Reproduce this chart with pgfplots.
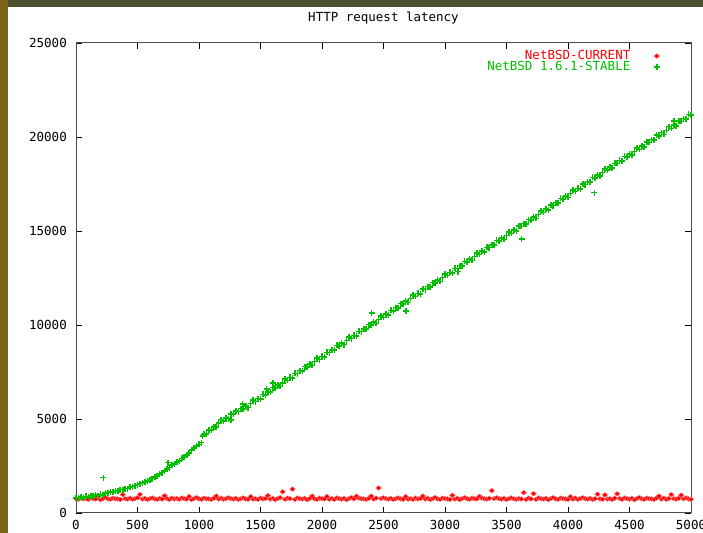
\documentclass[border=0pt]{standalone}
\usepackage{fontspec}
\setmainfont{DejaVu Sans Mono}
\usepackage{pgfplots}
\pgfplotsset{compat=1.18}
\definecolor{gpred}{RGB}{255,0,0}
\definecolor{gpgreen}{RGB}{0,192,0}
\definecolor{leftbar}{RGB}{122,98,22}
\definecolor{topbar}{RGB}{72,80,45}
\newcommand{\gpfont}{\fontsize{12.5bp}{14bp}\selectfont}
\begin{document}
\begin{tikzpicture}[x=1bp,y=1bp]
\useasboundingbox (0,0) rectangle (703,533);
\fill[white] (0,0) rectangle (703,533);
\fill[leftbar] (0,0) rectangle (7.5,533);
\fill[topbar] (7.5,525.5) rectangle (703,533);
\begin{axis}[
  at={(76bp,20bp)}, anchor=south west,
  scale only axis, width=615bp, height=470bp,
  xmin=0, xmax=5000, ymin=0, ymax=25000,
  xtick={0,500,...,5000}, ytick={0,5000,...,25000},
  scaled ticks=false,
  /pgf/number format/1000 sep={},
  /pgf/number format/assume math mode=true,
  tick align=inside, major tick length=6bp,
  axis line style={black!70, line width=1bp},
  every tick/.style={black, line width=0.8bp},
  tick label style={font=\gpfont, inner sep=0pt},
  xticklabel style={anchor=north, yshift=-7bp},
  yticklabel style={anchor=east, xshift=-9bp},
  title={HTTP request latency},
  title style={font=\gpfont, inner sep=0pt, anchor=south, at={(0.5,1)}, yshift=13bp},
  clip=false,
  legend cell align=right,
  legend plot pos=right,
  legend style={draw=none, fill=none, at={(1,1)}, anchor=north east,
    xshift=-28bp, yshift=-4bp, font=\gpfont, row sep=-3bp,
    nodes={inner sep=1.5bp},
    /tikz/every odd column/.append style={column sep=22bp}},
]
\addplot[only marks, mark=diamond*, mark size=2.4bp,
  mark options={xscale=1.6, fill=gpred, draw=gpred!50!white, line width=0.4bp}]
coordinates {
(0,760)(20,730)(40,790)(60,750)(80,770)(100,720)(120,800)(140,760)(160,740)(180,880)(200,710)(220,770)(240,820)(260,750)(280,730)(300,790)(320,760)
(340,750)(360,720)(380,980)(400,760)(420,740)(440,790)(460,730)(480,770)(500,810)(520,990)(540,740)(560,780)(580,720)(600,760)(620,800)(640,750)(660,730)
(680,770)(700,740)(720,920)(740,760)(760,720)(780,790)(800,750)(820,770)(840,730)(860,800)(880,760)(900,740)(920,880)(940,710)(960,770)(980,820)(1000,750)
(1020,730)(1040,790)(1060,760)(1080,750)(1100,720)(1120,780)(1140,900)(1160,740)(1180,790)(1200,730)(1220,770)(1240,810)(1260,760)(1280,740)(1300,780)(1320,720)
(1340,760)(1360,800)(1380,750)(1400,730)(1420,870)(1440,740)(1460,760)(1480,720)(1500,790)(1520,750)(1540,770)(1560,930)(1580,740)(1600,780)(1620,710)(1640,770)
(1660,820)(1680,1130)(1700,730)(1720,790)(1740,760)(1760,1270)(1780,720)(1800,800)(1820,760)(1840,740)(1860,780)(1880,710)(1900,770)(1920,900)(1940,750)(1960,730)
(1980,790)(2000,760)(2020,750)(2040,880)(2060,730)(2080,770)(2100,720)(2120,800)(2140,760)(2160,740)(2180,780)(2200,710)(2220,770)(2240,820)(2260,750)(2280,890)
(2300,790)(2320,760)(2340,750)(2360,720)(2380,780)(2400,900)(2420,740)(2440,790)(2460,1330)(2480,770)(2500,810)(2520,760)(2540,740)(2560,780)(2580,720)(2600,760)
(2620,800)(2640,750)(2660,730)(2680,870)(2700,740)(2720,760)(2740,720)(2760,790)(2780,750)(2800,770)(2820,900)(2840,740)(2860,780)(2880,710)(2900,770)(2920,820)
(2940,750)(2960,730)(2980,790)(3000,760)(3020,750)(3040,720)(3060,940)(3080,740)(3100,780)(3120,710)(3140,770)(3160,820)(3180,750)(3200,730)(3220,790)(3240,760)
(3260,750)(3280,880)(3300,790)(3320,760)(3340,740)(3360,780)(3380,1190)(3400,770)(3420,810)(3440,760)(3460,740)(3480,780)(3500,720)(3520,760)(3540,800)(3560,750)
(3580,730)(3600,770)(3620,740)(3640,1080)(3660,720)(3680,790)(3700,750)(3720,1030)(3740,730)(3760,800)(3780,760)(3800,740)(3820,780)(3840,710)(3860,770)(3880,820)
(3900,750)(3920,730)(3940,790)(3960,760)(3980,750)(4000,720)(4020,870)(4040,740)(4060,790)(4080,730)(4100,770)(4120,810)(4140,760)(4160,740)(4180,780)(4200,720)
(4220,760)(4240,1000)(4260,750)(4280,730)(4300,960)(4320,740)(4340,760)(4360,720)(4380,790)(4400,1020)(4420,770)(4440,730)(4460,800)(4480,760)(4500,740)(4520,780)
(4540,710)(4560,770)(4580,820)(4600,750)(4620,730)(4640,790)(4660,760)(4680,750)(4700,720)(4720,800)(4740,900)(4760,740)(4780,790)(4800,730)(4820,770)(4840,980)
(4860,760)(4880,740)(4900,780)(4920,950)(4940,760)(4960,800)(4980,750)(5000,730)
};
\addlegendentry{\textcolor{gpred}{NetBSD-CURRENT}}
\addplot[only marks, mark=+, mark size=3bp, mark options={draw=gpgreen, line width=1.6bp}]
coordinates {
(0,820)(20,780)(40,850)(60,810)(80,880)(100,860)(120,920)(140,890)(160,950)(180,930)(200,990)(220,970)
(240,1070)(260,1080)(280,1120)(300,1130)(320,1180)(340,1170)(360,1240)(380,1240)(400,1300)(420,1300)(440,1370)(460,1400)(480,1460)(500,1510)
(520,1560)(540,1600)(560,1650)(580,1710)(600,1770)(620,1830)(640,1910)(660,1960)(680,2080)(700,2150)(720,2230)(740,2350)(760,2420)(780,2540)(800,2610)
(820,2700)(840,2780)(860,2900)(880,2970)(900,3100)(920,3180)(940,3350)(960,3460)(980,3560)(1000,3650)(1020,3740)(1030,4100)
(1040,4210)(1060,4190)(1080,4430)(1100,4410)(1120,4580)(1140,4570)(1160,4780)(1180,4970)(1200,4890)(1220,5060)(1240,5020)(1260,5270)(1280,5250)(1300,5410)(1320,5390)
(1340,5550)(1360,5530)(1380,5690)(1400,5610)(1420,5820)(1440,6010)(1460,5930)(1480,6090)(1500,6060)(1520,6310)(1540,6290)(1560,6450)(1580,6420)(1600,6670)(1620,6650)
(1640,6810)(1660,6730)(1680,6930)(1700,7130)(1720,7050)(1740,7210)(1760,7180)(1780,7420)(1800,7410)(1820,7570)(1840,7540)(1860,7790)(1880,7760)(1900,7930)(1920,7850)
(1940,8050)(1960,8250)(1980,8160)(2000,8330)(2020,8300)(2040,8540)(2060,8530)(2080,8680)(2100,8660)(2120,8910)(2140,8880)(2160,9050)(2180,8960)(2200,9170)(2220,9370)
(2240,9280)(2260,9450)(2280,9410)(2300,9660)(2320,9650)(2340,9800)(2360,9780)(2380,10020)(2400,10000)(2420,10170)(2440,10080)(2460,10290)(2480,10480)(2500,10400)
(2520,10570)(2540,10530)(2560,10780)(2580,10760)(2600,10920)(2620,10900)(2640,11140)(2660,11120)(2680,11280)(2700,11200)(2720,11410)(2740,11600)(2760,11520)(2780,11680)
(2800,11650)(2820,11900)(2840,11880)(2860,12040)(2880,12010)(2900,12260)(2920,12240)(2940,12400)(2960,12320)(2980,12520)(3000,12720)(3020,12640)(3040,12800)(3060,12770)
(3080,13010)(3100,13000)(3120,13160)(3140,13130)(3160,13380)(3180,13350)(3200,13520)(3220,13440)(3240,13640)(3260,13840)(3280,13750)(3300,13920)(3320,13890)(3340,14130)
(3360,14120)(3380,14270)(3400,14250)(3420,14500)(3440,14470)(3460,14640)(3480,14550)(3500,14760)(3520,14960)(3540,14870)(3560,15040)(3580,15000)(3600,15250)(3620,15240)
(3640,15390)(3660,15370)(3680,15610)(3700,15590)(3720,15760)(3740,15670)(3760,15880)(3780,16070)(3800,15990)(3820,16160)(3840,16120)(3860,16370)(3880,16350)(3900,16510)
(3920,16490)(3940,16730)(3960,16710)(3980,16870)(4000,16790)(4020,17000)(4040,17190)(4060,17110)(4080,17270)(4100,17240)(4120,17490)(4140,17470)(4160,17630)(4180,17600)
(4200,17850)(4220,17830)(4240,17990)(4260,17910)(4280,18110)(4300,18310)(4320,18230)(4340,18390)(4360,18360)(4380,18600)(4400,18590)(4420,18750)(4440,18720)(4460,18970)
(4480,18940)(4500,19110)(4520,19030)(4540,19230)(4560,19430)(4580,19340)(4600,19510)(4620,19480)(4640,19720)(4660,19710)(4680,19860)(4700,19840)(4720,20090)(4740,20060)
(4760,20230)(4780,20140)(4800,20350)(4820,20550)(4840,20460)(4860,20630)(4880,20590)(4900,20840)(4920,20830)(4940,20980)(4960,20960)(4980,21200)(5000,21180)
(222,1880)(750,2680)(1258,4950)(1355,5800)(1550,6580)(1602,6910)(2404,10650)(2683,10760)(3108,12840)(3623,14560)(4214,17040)(4862,20850)
};
\addlegendentry{\textcolor{gpgreen}{NetBSD 1.6.1-STABLE}}
\end{axis}
\end{tikzpicture}
\end{document}
